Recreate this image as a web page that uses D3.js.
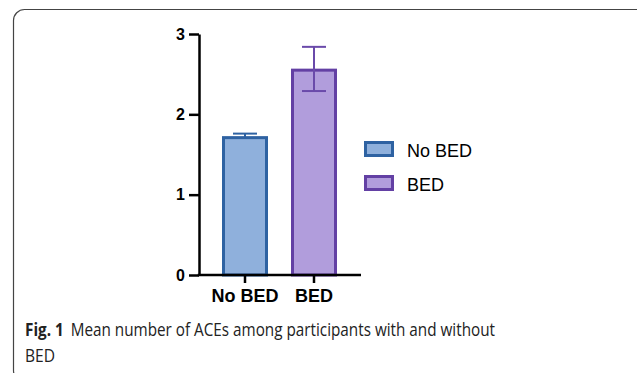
<!DOCTYPE html>
<html><head><meta charset="utf-8">
<script src="https://cdn.jsdelivr.net/npm/d3@7"></script>
<style>
html,body{margin:0;padding:0;background:#fff;}
svg{display:block;}
</style></head>
<body>
<svg id="chart" width="637" height="373"></svg>
<script>
const categories = ["No BED", "BED"];
const means = [1.71, 2.55];
const errUpper = [1.76, 2.84];
const errLower = [1.71, 2.29];
const yTicks = [0, 1, 2, 3];
const fills = ["#8fb0dc", "#b19ddc"];
const strokes = ["#2e62a2", "#6340a4"];
const errColors = ["#2e62a2", "#6a4aaa"];
const captionBold = "Fig. 1";
const captionLines = ["Mean number of ACEs among participants with and without", "BED"];

const svg = d3.select("#chart");

// frame
svg.append("rect").attr("x", 13.5).attr("y", 9.5).attr("width", 640).attr("height", 372)
  .attr("rx", 11).attr("fill", "none").attr("stroke", "#444").attr("stroke-width", 1.2);

const y = d3.scaleLinear().domain([0, 3]).range([275, 34]);
const x = d3.scaleBand().domain(categories).range([199, 360]).paddingInner(1 / 3).paddingOuter(1 / 3);

// bars
const bw = x.bandwidth();
svg.selectAll("rect.bar").data(categories).enter().append("rect")
  .attr("class", "bar")
  .attr("x", d => x(d) + 1.5)
  .attr("y", (d, i) => y(means[i]))
  .attr("width", bw - 3)
  .attr("height", (d, i) => y(0) - y(means[i]))
  .attr("fill", (d, i) => fills[i])
  .attr("stroke", (d, i) => strokes[i])
  .attr("stroke-width", 3);

// error bars
const capW = 24;
categories.forEach((c, i) => {
  const cx = x(c) + bw / 2;
  const g = svg.append("g").attr("stroke", errColors[i]).attr("stroke-width", 2);
  g.append("line").attr("x1", cx).attr("x2", cx).attr("y1", y(errUpper[i])).attr("y2", y(errLower[i]));
  g.append("line").attr("x1", cx - capW / 2).attr("x2", cx + capW / 2).attr("y1", y(errUpper[i])).attr("y2", y(errUpper[i]));
  if (errLower[i] < means[i])
    g.append("line").attr("x1", cx - capW / 2).attr("x2", cx + capW / 2).attr("y1", y(errLower[i])).attr("y2", y(errLower[i]));
});

// y axis
const yAxis = svg.append("g").attr("transform", "translate(199,0)")
  .call(d3.axisLeft(y).tickValues(yTicks).tickFormat(d3.format("d")).tickSize(10).tickSizeOuter(0).tickPadding(4));
yAxis.select(".domain").attr("stroke", "#000").attr("stroke-width", 2.5);
yAxis.selectAll(".tick line").attr("stroke", "#000").attr("stroke-width", 2.5);
yAxis.selectAll(".tick text").attr("font-family", "Liberation Sans, Arial, sans-serif")
  .attr("font-weight", "bold").attr("font-size", 16).attr("fill", "#000");

// x axis
const xAxis = svg.append("g").attr("transform", "translate(0,275)")
  .call(d3.axisBottom(x).tickSize(8).tickSizeOuter(0).tickPadding(6));
xAxis.select(".domain").attr("stroke", "#000").attr("stroke-width", 2.5).attr("d", "M197.75,0H361");
xAxis.selectAll(".tick line").attr("stroke", "#000").attr("stroke-width", 2.5);
xAxis.selectAll(".tick text").attr("font-family", "Liberation Sans, Arial, sans-serif")
  .attr("font-weight", "bold").attr("font-size", 18).attr("fill", "#000");

// legend
const leg = svg.append("g");
categories.forEach((c, i) => {
  const ly = 142.5 + i * 34;
  leg.append("rect").attr("x", 365.5).attr("y", ly).attr("width", 27).attr("height", 13)
    .attr("fill", fills[i]).attr("stroke", strokes[i]).attr("stroke-width", 3);
  leg.append("text").attr("x", 407).attr("y", ly + 14).text(c)
    .attr("font-family", "Liberation Sans, Arial, sans-serif").attr("font-size", 18).attr("fill", "#000");
});

// caption
const cap = svg.append("text").attr("x", 25).attr("y", 336)
  .attr("font-family", "Open Sans, sans-serif").attr("font-size", 17.5).attr("fill", "#222")
  .attr("textLength", 470).attr("lengthAdjust", "spacingAndGlyphs");
cap.append("tspan").attr("font-weight", "bold").text(captionBold);
cap.append("tspan").attr("dx", 8).text(captionLines[0]);
svg.append("text").attr("x", 25).attr("y", 362).text(captionLines[1])
  .attr("font-family", "Open Sans, sans-serif").attr("font-size", 17.5).attr("fill", "#222")
  .attr("textLength", 30).attr("lengthAdjust", "spacingAndGlyphs");
</script>
</body></html>
